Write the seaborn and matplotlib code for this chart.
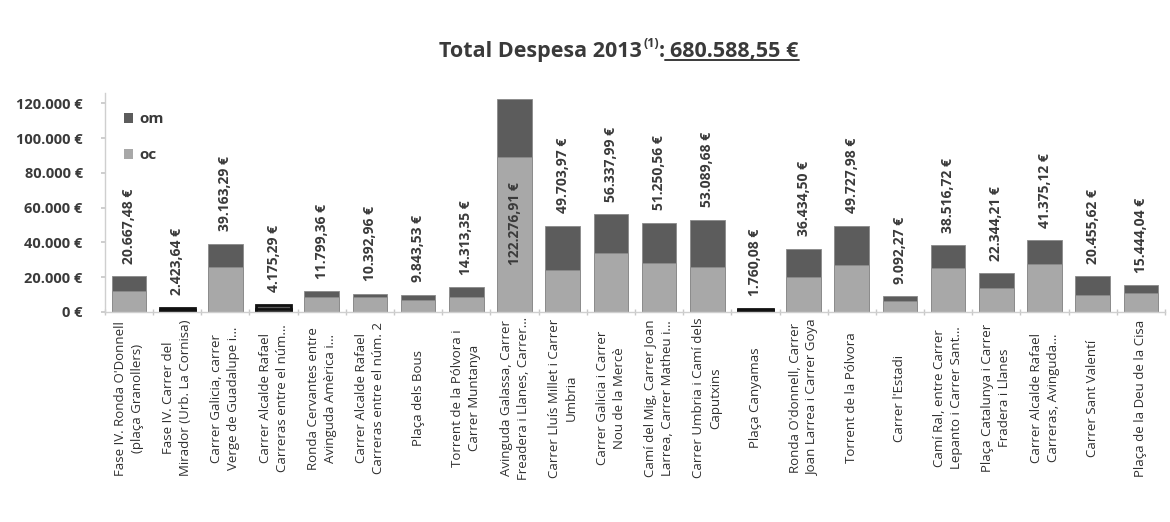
import numpy as np
import pandas as pd
import matplotlib
matplotlib.use("Agg")
import matplotlib.pyplot as plt
import seaborn as sns
from matplotlib.lines import Line2D
from matplotlib.patches import Patch

# ---------------- data ----------------
categories = [
    "Fase IV. Ronda O'Donnell\n(plaça Granollers)",
    "Fase IV. Carrer del\nMirador (Urb. La Cornisa)",
    "Carrer Galicia, carrer\nVerge de Guadalupe i…",
    "Carrer Alcalde Rafael\nCarreras entre el núm…",
    "Ronda Cervantes entre\nAvinguda Amèrica i…",
    "Carrer Alcalde Rafael\nCarreras entre el núm. 2",
    "Plaça dels Bous",
    "Torrent de la Pólvora i\nCarrer Muntanya",
    "Avinguda Galassa, Carrer\nFreadera i Llanes, Carrer…",
    "Carrer Lluís Millet i Carrer\nUmbria",
    "Carrer Galicia i Carrer\nNou de la Mercè",
    "Camí del Mig, Carrer Joan\nLarrea, Carrer Matheu i…",
    "Carrer Umbria i Camí dels\nCaputxins",
    "Plaça Canyamas",
    "Ronda O'donnell, Carrer\nJoan Larrea i Carrer Goya",
    "Torrent de la Pólvora",
    "Carrer l'Estadi",
    "Camí Ral, entre Carrer\nLepanto i Carrer Sant…",
    "Plaça Catalunya i Carrer\nFradera i Llanes",
    "Carrer Alcalde Rafael\nCarreras, Avinguda…",
    "Carrer Sant Valentí",
    "Plaça de la Deu de la Cisa",
]
oc = [12000.00, 1200.00, 26000.00, 2000.00, 8500.00, 8500.00, 7000.00, 8600.00,
      89000.00, 24000.00, 34000.00, 28200.00, 26000.00, 900.00, 20200.00, 27000.00,
      6300.00, 25300.00, 13800.00, 27600.00, 9800.00, 10900.00]
om = [8667.48, 1223.64, 13163.29, 2175.29, 3299.36, 1892.96, 2843.53, 5713.35,
      33276.91, 25703.97, 22337.99, 23050.56, 27089.68, 860.08, 16234.50, 22727.98,
      2792.27, 13216.72, 8544.21, 13775.12, 10655.62, 4544.04]
series_names = ["om", "oc"]
yticks = [0, 20000, 40000, 60000, 80000, 100000, 120000]
title_main = "Total Despesa 2013"
title_sup = "(1)"
title_value = "680.588,55 €"

# ---------------- style ----------------
sns.set_theme(style="white")
FONT = ["Open Sans", "DejaVu Sans"]
plt.rcParams["font.family"] = FONT

OC_COLOR = "#a8a8a8"
OM_COLOR = "#5c5c5c"
TEXT = "#3a3a3a"

def euro(v, dec=2):
    s = f"{v:,.{dec}f}"
    s = s.replace(",", "X").replace(".", ",").replace("X", ".")
    return s + " €"

df = pd.DataFrame({"cat": categories, "oc": oc, "om": om})
df["total"] = df["oc"] + df["om"]

fig = plt.figure(figsize=(11.7, 5.22), dpi=100)
ax = fig.add_axes([0.0897, 0.4023, 0.9060, 0.4195])

sns.barplot(data=df, x="cat", y="total", color=OM_COLOR, saturation=1,
            width=0.72, ax=ax, order=categories)
sns.barplot(data=df, x="cat", y="oc", color=OC_COLOR, saturation=1,
            width=0.72, ax=ax, order=categories)

for p in ax.patches:
    p.set_edgecolor("#8a8a8a")
    p.set_linewidth(0.6)

# tiny bars appear as dark outlines in the reference
n = len(categories)
for i in range(n):
    if df["total"][i] < 5000:
        for p in (ax.patches[i], ax.patches[n + i]):
            p.set_edgecolor("#111111")
            p.set_linewidth(2.0)

ymax = 126000
ax.set_ylim(0, ymax)
ax.set_xlim(-0.45, n - 0.6)

# value labels
for i, t in enumerate(df["total"]):
    lab = euro(t)
    if t + 40000 > ymax:
        ax.text(i, t * 0.22, lab, rotation=90, ha="center", va="bottom",
                fontsize=10, fontweight="bold", color=TEXT)
    else:
        ax.annotate(lab, (i, t), xytext=(0, 9), textcoords="offset points",
                    rotation=90, ha="center", va="bottom", fontsize=10,
                    fontweight="bold", color=TEXT)

# axes styling
ax.set_yticks(yticks)
ax.set_yticklabels([euro(v, 0) for v in yticks],
                   fontsize=10.5, fontweight="bold", color=TEXT)
ax.set_xlabel("")
ax.set_ylabel("")
ax.set_xticks(range(n))
ax.set_xticklabels(categories, rotation=90, fontsize=9.5, color="#2f2f2f",
                   multialignment="center", linespacing=1.4)
for lbl in ax.get_xticklabels():
    lbl.set_verticalalignment("center")
    lbl.set_horizontalalignment("center")
ax.tick_params(axis="x", length=0, pad=62)
ax.tick_params(axis="y", length=3, color="#c8c8c8", pad=13, direction="out", left=True)
ax.set_xticks(np.arange(-0.5, n, 1.0), minor=True)
ax.tick_params(axis="x", which="minor", length=4, direction="inout", color="#c8c8c8", bottom=True)
for side in ["top", "right"]:
    ax.spines[side].set_visible(False)
for side in ["left", "bottom"]:
    ax.spines[side].set_color("#cfcfcf")
    ax.spines[side].set_linewidth(1.0)

# legend
handles = [Patch(facecolor=OM_COLOR, edgecolor="none"), Patch(facecolor=OC_COLOR, edgecolor="none")]
leg = ax.legend(handles, series_names, loc="upper left", bbox_to_anchor=(0.012, 0.94),
                frameon=False, fontsize=11, handlelength=0.6, handleheight=0.6,
                handletextpad=0.4, labelspacing=1.45, borderaxespad=0)
for tx in leg.get_texts():
    tx.set_color(TEXT)
    tx.set_fontweight("bold")

# title with superscript and underlined amount
fig.canvas.draw()
r = fig.canvas.get_renderer()
inv = fig.transFigure.inverted()
ytitle = 0.891
TS = 15.5
t1 = fig.text(0, ytitle, title_main, fontsize=TS, fontweight="bold", color=TEXT, va="baseline")
bb = t1.get_window_extent(r)
xs = inv.transform((bb.x1 + 1, 0))[0]
t2 = fig.text(xs, ytitle + 0.019, title_sup, fontsize=9, fontweight="bold", color=TEXT, va="baseline")
bb2 = t2.get_window_extent(r)
xc = inv.transform((bb2.x1, 0))[0]
t3 = fig.text(xc, ytitle, ": ", fontsize=TS, fontweight="bold", color=TEXT, va="baseline")
bb3 = t3.get_window_extent(r)
xv = inv.transform((bb3.x1, 0))[0]
t4 = fig.text(xv, ytitle, title_value, fontsize=TS, fontweight="bold", color=TEXT, va="baseline")
bb4 = t4.get_window_extent(r)
total_w = inv.transform((bb4.x1, 0))[0]
shift = 0.529 - total_w / 2
for t in (t1, t2, t3, t4):
    x, y = t.get_position()
    t.set_position((x + shift, y))
fig.canvas.draw()
bb3 = t3.get_window_extent(r)
bb4 = t4.get_window_extent(r)
(ux0, uy), (ux1, _) = inv.transform([(bb3.x1 - 5, bb4.y0 + 2), (bb4.x1, bb4.y0 + 2)])
fig.add_artist(Line2D([ux0, ux1], [uy, uy], transform=fig.transFigure, color=TEXT, lw=1.4))

fig.savefig("out.png", dpi=100)
